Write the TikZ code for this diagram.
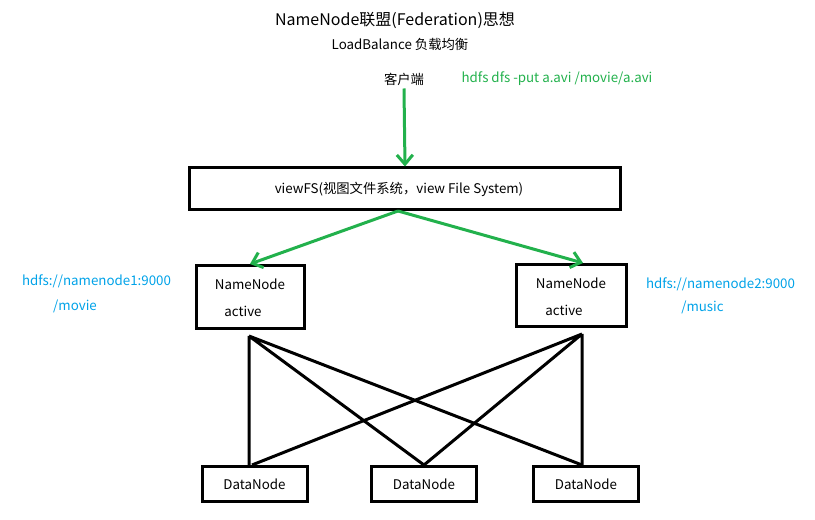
\documentclass[tikz,border=0pt]{standalone}
\usepackage{fontspec}
\setmainfont{Noto Sans CJK SC}
\usetikzlibrary{arrows.meta}
\definecolor{paintgreen}{HTML}{22B14C}
\definecolor{paintblue}{HTML}{00A2E8}
\tikzset{
	box/.style={draw,line width=2.25pt,inner sep=0pt},
	txt/.style={inner sep=0pt,font=\fontsize{10pt}{12pt}\selectfont},
	green arrow/.style={draw=paintgreen,line width=2.25pt,-{Straight Barb[length=7pt,width=12pt,line width=2.25pt]}},
	wire/.style={line width=2.25pt}
}
\begin{document}
\begin{tikzpicture}[x=0.75pt,y=-0.75pt]
		\useasboundingbox (0,0) rectangle (815,520);
		\node[txt,font=\fontsize{12pt}{14pt}\selectfont] (title) at (395,20) {NameNode联盟(Federation)思想};
		\node[txt] (lb) at (400,44) {LoadBalance 负载均衡};
		\node[txt] (client) at (404,79) {客户端};
		\node[txt,text=paintgreen] (cmd) at (557,79) {hdfs dfs -put a.avi /movie/a.avi};
		% viewFS
		\node[box,minimum width=323.25pt,minimum height=31.5pt] (vf) at (405,189) {};
		\node[txt] (vftext) at (399,189) {viewFS(视图文件系统，view File System)};
		% NameNodes
		\node[box,minimum width=81pt,minimum height=47.25pt] (nn1) at (250.5,297) {};
		\node[txt] (nn1name) at (250,284) {NameNode};
		\node[txt] (nn1act) at (243,311) {active};
		\node[box,minimum width=82.5pt,minimum height=46.5pt] (nn2) at (571.5,295.5) {};
		\node[txt] (nn2name) at (571,283) {NameNode};
		\node[txt] (nn2act) at (564,310) {active};
		\node[txt,text=paintblue] (ns1) at (96.5,281) {hdfs://namenode1:9000};
		\node[txt,text=paintblue] (ns1dir) at (75,306) {/movie};
		\node[txt,text=paintblue] (ns2) at (720.5,284) {hdfs://namenode2:9000};
		\node[txt,text=paintblue] (ns2dir) at (702.5,307) {/music};
		% DataNodes
		\node[box,minimum width=78.75pt,minimum height=26.25pt] (dn1) at (254.5,484) {};
		\node[txt] at (dn1) {DataNode};
		\node[box,minimum width=78.75pt,minimum height=26.25pt] (dn2) at (424,484) {};
		\node[txt] at (dn2) {DataNode};
		\node[box,minimum width=78.75pt,minimum height=26.25pt] (dn3) at (586,484) {};
		\node[txt] at (dn3) {DataNode};
		% green arrows
		\coordinate (vfout) at (398,211);
		\coordinate (nn1in) at (250,264);
		\coordinate (nn2in) at (583,263);
		\draw[green arrow] (client.south) ++(0,3) -- (vf.north);
		\draw[green arrow] (vfout) -- (nn1in);
		\draw[green arrow] (vfout) -- (nn2in);
		% wires
		\coordinate (nn1out) at (249,336);
		\coordinate (nn2out) at (582,334);
		\coordinate (dn1a) at (249,465);
		\coordinate (dn1b) at (252,465);
		\coordinate (dn2a) at (424,465);
		\coordinate (dn3a) at (582,465);
		\draw[wire] (nn1out) -- (dn1a) (nn1out) -- (dn2a) (nn1out) -- (dn3a);
		\draw[wire] (nn2out) -- (dn1b) (nn2out) -- (dn2a) (nn2out) -- (dn3a);
	\end{tikzpicture}
\end{document}
